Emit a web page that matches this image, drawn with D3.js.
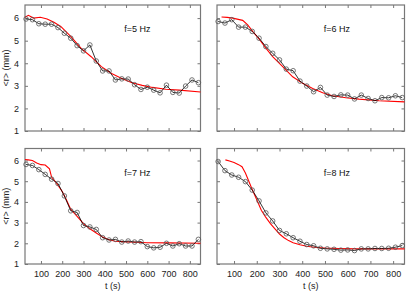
<!DOCTYPE html>
<html>
<head>
<meta charset="utf-8">
<script src="https://cdn.jsdelivr.net/npm/d3@7"></script>
<style>
  body { margin: 0; background: #fff; }
  svg { font-family: "Liberation Sans", Arial, sans-serif; }
</style>
</head>
<body>
<script>
// measurement times (s)
const times = [30, 60, 90, 120, 150, 180, 210, 240, 270, 300, 330, 360, 390, 420,
    450, 480, 510, 540, 570, 600, 630, 660, 690, 720, 750, 780, 810, 840];

// measured <r> (mm)
const r5 = [5.96, 5.93, 5.75, 5.73, 5.73, 5.58, 5.33, 5.11, 4.78, 4.55, 4.81, 4.10, 3.66, 3.66,
    3.26, 3.31, 3.30, 3.05, 2.84, 2.94, 2.81, 2.69, 3.03, 2.71, 2.68, 2.99, 3.26, 3.14];
const r6 = [5.85, 5.78, 5.93, 5.60, 5.60, 5.41, 5.11, 4.74, 4.44, 4.15, 3.74, 3.67, 3.21, 2.99,
    2.74, 2.93, 2.59, 2.53, 2.60, 2.59, 2.42, 2.59, 2.44, 2.34, 2.48, 2.47, 2.56, 2.48];
const r7 = [5.81, 5.76, 5.56, 5.33, 5.10, 4.89, 4.29, 3.57, 3.49, 2.86, 2.79, 2.67, 2.27, 2.16,
    2.19, 2.06, 2.11, 2.06, 2.08, 1.84, 1.78, 1.81, 2.00, 1.87, 1.98, 1.87, 1.87, 2.19];
const r8 = [5.95, 5.51, 5.30, 5.19, 4.98, 4.57, 4.05, 3.47, 3.08, 2.62, 2.46, 2.27, 2.10, 1.94,
    1.88, 1.76, 1.73, 1.71, 1.67, 1.68, 1.65, 1.73, 1.73, 1.75, 1.75, 1.76, 1.81, 1.89];

// model curves (red)
const fit5T = [25, 41, 65, 97, 129, 161, 193, 241, 289, 336, 384, 432, 480, 528, 576, 624, 687, 751, 850];
const fit5R = [6.04, 6.12, 6.0, 6.04, 5.96, 5.82, 5.63, 5.18, 4.66, 4.29, 3.85, 3.55, 3.33, 3.14, 3.02, 2.93, 2.85, 2.81, 2.73];
const fit6T = [45, 70, 94, 138, 160, 182, 211, 241, 270, 314, 358, 402, 446, 490, 533, 592, 650, 738, 850];
const fit6R = [6.05, 6.03, 6.0, 5.9, 5.70, 5.41, 5.07, 4.66, 4.29, 3.85, 3.40, 3.11, 2.88, 2.69, 2.56, 2.47, 2.41, 2.34, 2.29];
const fit7T = [25, 40, 60, 80, 100, 120, 140, 150, 170, 200, 215, 240, 270, 300, 330, 360, 390, 420, 450, 500, 550, 600, 700, 850];
const fit7R = [6.05, 6.03, 6.0, 5.88, 5.8, 5.78, 5.6, 5.2, 4.95, 4.5, 4.2, 3.65, 3.3, 2.95, 2.7, 2.5, 2.3, 2.17, 2.1, 2.07, 2.05, 2.03, 2.02, 2.0];
const fit8T = [62, 80, 100, 120, 135, 150, 165, 180, 200, 220, 240, 260, 280, 300, 320, 340, 360, 390, 420, 460, 500, 560, 640, 850];
const fit8R = [6.03, 5.98, 5.9, 5.8, 5.7, 5.4, 5.0, 4.6, 4.1, 3.6, 3.25, 2.95, 2.7, 2.45, 2.27, 2.13, 2.03, 1.93, 1.86, 1.8, 1.77, 1.75, 1.73, 1.73];

const labels = ["f=5 Hz", "f=6 Hz", "f=7 Hz", "f=8 Hz"];
const xTicks = [100, 200, 300, 400, 500, 600, 700, 800];
const yTicks = [1, 2, 3, 4, 5, 6];

const panels = [
    {x0: 25, x1: 200.5, y0: 5, y1: 131, r: r5, ft: fit5T, fr: fit5R, lab: labels[0], yl: true, xl: false},
    {x0: 217, x1: 404.5, y0: 5, y1: 131, r: r6, ft: fit6T, fr: fit6R, lab: labels[1], yl: false, xl: false},
    {x0: 25, x1: 200.5, y0: 148.5, y1: 264, r: r7, ft: fit7T, fr: fit7R, lab: labels[2], yl: true, xl: true},
    {x0: 217, x1: 404.5, y0: 148.5, y1: 264, r: r8, ft: fit8T, fr: fit8R, lab: labels[3], yl: false, xl: true}
];

const svg = d3.select("body").append("svg")
    .attr("width", 415)
    .attr("height", 291);

const frameColor = "#777";

panels.forEach(p => {
    const x = d3.scaleLinear().domain([25, 850]).range([p.x0, p.x1]);
    const y = d3.scaleLinear().domain([1, 6.58]).range([p.y1, p.y0]);
    const g = svg.append("g");

    // axes with inward ticks on all four sides
    const bottom = g.append("g").attr("transform", "translate(0," + p.y1 + ")")
        .call(d3.axisBottom(x).tickValues(xTicks).tickSize(-3).tickSizeOuter(0).tickPadding(7));
    const top = g.append("g").attr("transform", "translate(0," + p.y0 + ")")
        .call(d3.axisTop(x).tickValues(xTicks).tickSize(-3).tickSizeOuter(0).tickFormat(""));
    const left = g.append("g").attr("transform", "translate(" + p.x0 + ",0)")
        .call(d3.axisLeft(y).tickValues(yTicks).tickFormat(d3.format("d")).tickSize(-3).tickSizeOuter(0).tickPadding(6));
    const right = g.append("g").attr("transform", "translate(" + p.x1 + ",0)")
        .call(d3.axisRight(y).tickValues(yTicks).tickSize(-3).tickSizeOuter(0).tickFormat(""));

    [bottom, top, left, right].forEach(a => {
        a.select(".domain").remove();
        a.selectAll("line").attr("stroke", frameColor);
        a.selectAll("text").attr("fill", "#222").style("font-size", "9px");
    });
    if (!p.xl) bottom.selectAll("text").remove();
    if (!p.yl) left.selectAll("text").remove();

    g.append("rect")
        .attr("x", p.x0).attr("y", p.y0)
        .attr("width", p.x1 - p.x0).attr("height", p.y1 - p.y0)
        .attr("fill", "none")
        .attr("stroke", frameColor)
        .attr("stroke-width", 1.2);

    const pts = times.map((t, i) => [t, p.r[i]]);
    const fit = p.ft.map((t, i) => [t, p.fr[i]]);
    const line = d3.line().x(d => x(d[0])).y(d => y(d[1]));

    g.append("path").datum(fit)
        .attr("d", line)
        .attr("fill", "none")
        .attr("stroke", "#f00")
        .attr("stroke-width", 1.1);

    g.append("path").datum(pts)
        .attr("d", line)
        .attr("fill", "none")
        .attr("stroke", "#000")
        .attr("stroke-width", 0.8);

    g.selectAll("circle").data(pts).join("circle")
        .attr("cx", d => x(d[0]))
        .attr("cy", d => y(d[1]))
        .attr("r", 2.3)
        .attr("fill", "none")
        .attr("stroke", "#555")
        .attr("stroke-width", 0.8);

    g.append("text")
        .attr("x", p.x0 + (p.x1 - p.x0) * 0.64)
        .attr("y", p.y0 + 27)
        .attr("text-anchor", "middle")
        .style("font-size", "9px")
        .attr("fill", "#111")
        .text(p.lab);

    if (p.yl) {
        g.append("text")
            .attr("transform", "translate(9," + ((p.y0 + p.y1) / 2) + ") rotate(-90)")
            .attr("text-anchor", "middle")
            .style("font-size", "9px")
            .attr("fill", "#222")
            .text("<r> (mm)");
    }
    if (p.xl) {
        g.append("text")
            .attr("x", (p.x0 + p.x1) / 2)
            .attr("y", 289)
            .attr("text-anchor", "middle")
            .style("font-size", "9px")
            .attr("fill", "#222")
            .text("t (s)");
    }
});
</script>
</body>
</html>
